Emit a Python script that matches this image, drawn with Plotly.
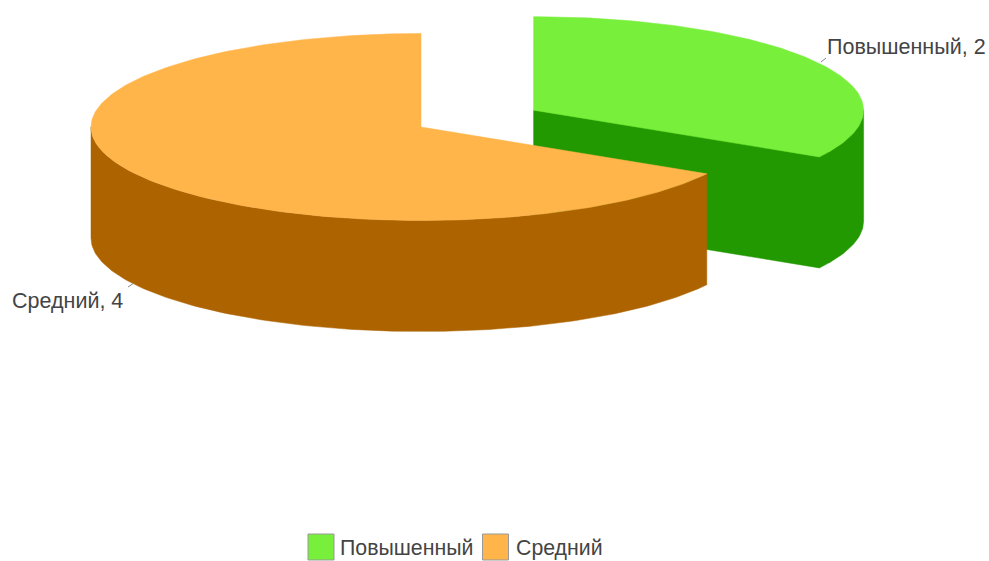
import math
import plotly.graph_objects as go

categories = ["Повышенный", "Средний"]
values = [2, 4]
top_colors = ["#77EF3B", "#FFB54A"]
side_colors = ["#229900", "#AD6400"]
FONT = "Liberation Sans, Arial, sans-serif"
TEXT = "#444444"

# projection of the tilted pie into the 989x561 page
CX, CY = 421.0, 127.0
RX, RY = 330.0, 93.5
DEPTH = 111.0
EXPLODE_X, EXPLODE_Y = 0.394, 0.36


def pt(cx, cy, deg, dz=0.0):
    a = math.radians(deg)
    return cx + RX * math.sin(a), cy - RY * math.cos(a) + dz


def arc(cx, cy, a0, a1, dz=0.0, step=1.0):
    n = max(2, int(abs(a1 - a0) / step) + 1)
    return [pt(cx, cy, a0 + (a1 - a0) * i / (n - 1), dz) for i in range(n)]


def poly(points, color, name):
    pts = list(points) + [points[0]]
    return go.Scatter(
        x=[p[0] for p in pts], y=[p[1] for p in pts], mode="lines",
        fill="toself", fillcolor=color, line=dict(color=color, width=0.5),
        hoverinfo="text", text=name, showlegend=False,
    )


total = sum(values)
spans = []
start = 0.0
for v in values:
    spans.append((start, start + 360.0 * v / total))
    start += 360.0 * v / total

centres = []
for (a0, a1), v in zip(spans, values):
    if v / total < 0.5:  # the smaller slice is pulled out
        mid = math.radians((a0 + a1) / 2)
        centres.append((CX + EXPLODE_X * RX * math.sin(mid), CY - EXPLODE_Y * RY * math.cos(mid)))
    else:
        centres.append((CX, CY))

traces = []
# green slice: cut face and outer wall as one shape, then the top
(a0, a1), (cx, cy) = spans[0], centres[0]
traces.append(poly([(cx, cy), pt(cx, cy, 90)] + arc(cx, cy, 90, a1, DEPTH) + [(cx, cy + DEPTH)],
                   side_colors[0], categories[0]))
traces.append(poly([(cx, cy)] + arc(cx, cy, a0, a1), top_colors[0], categories[0]))
# orange slice: outer wall, top
(b0, b1), (ox, oy) = spans[1], centres[1]
traces.append(poly(arc(ox, oy, b0, 270) + arc(ox, oy, 270, b0, DEPTH), side_colors[1], categories[1]))
traces.append(poly([(ox, oy)] + arc(ox, oy, b0, b1), top_colors[1], categories[1]))

# leader lines
leader_x = [[821, 826], [128, 134]]
leader_y = [[62, 58], [287, 283]]
for lx, ly in zip(leader_x, leader_y):
    traces.append(go.Scatter(x=lx, y=ly, mode="lines", line=dict(color="#888888", width=1),
                             hoverinfo="skip", showlegend=False))

# legend swatches
legend_x = [321, 495.5]
legend_y = [547, 547]
for name, col, lx, ly in zip(categories, top_colors, legend_x, legend_y):
    traces.append(go.Scatter(
        x=[lx], y=[ly], mode="markers", cliponaxis=False,
        marker=dict(symbol="square", size=26, color=col, line=dict(color="#999999", width=1)),
        hoverinfo="text", text=name, showlegend=False,
    ))

fig = go.Figure(traces)
label_pos = [(827, 47), (12, 301)]
for name, v, (lx, ly) in zip(categories, values, label_pos):
    fig.add_annotation(x=lx, y=ly, xref="x", yref="y", text=f"{name}, {v}", showarrow=False,
                       xanchor="left", yanchor="middle", borderpad=0, borderwidth=0,
                       font=dict(family=FONT, size=21.5, color=TEXT))
legend_text_x = [340, 516]
for name, lx in zip(categories, legend_text_x):
    fig.add_annotation(x=lx, y=548, xref="x", yref="y", text=name, showarrow=False,
                       xanchor="left", yanchor="middle", borderpad=0, borderwidth=0,
                       font=dict(family=FONT, size=21.3, color=TEXT))

fig.update_layout(
    width=989, height=561, autosize=False,
    margin=dict(l=0, r=0, t=0, b=0),
    paper_bgcolor="white", plot_bgcolor="white", showlegend=False,
    xaxis=dict(range=[0, 989], visible=False, fixedrange=True),
    yaxis=dict(range=[561, 0], visible=False, fixedrange=True),
)
fig.write_html("out.html", config={"displayModeBar": False},
               post_script="document.body.style.margin='0';document.body.style.overflow='hidden';")
